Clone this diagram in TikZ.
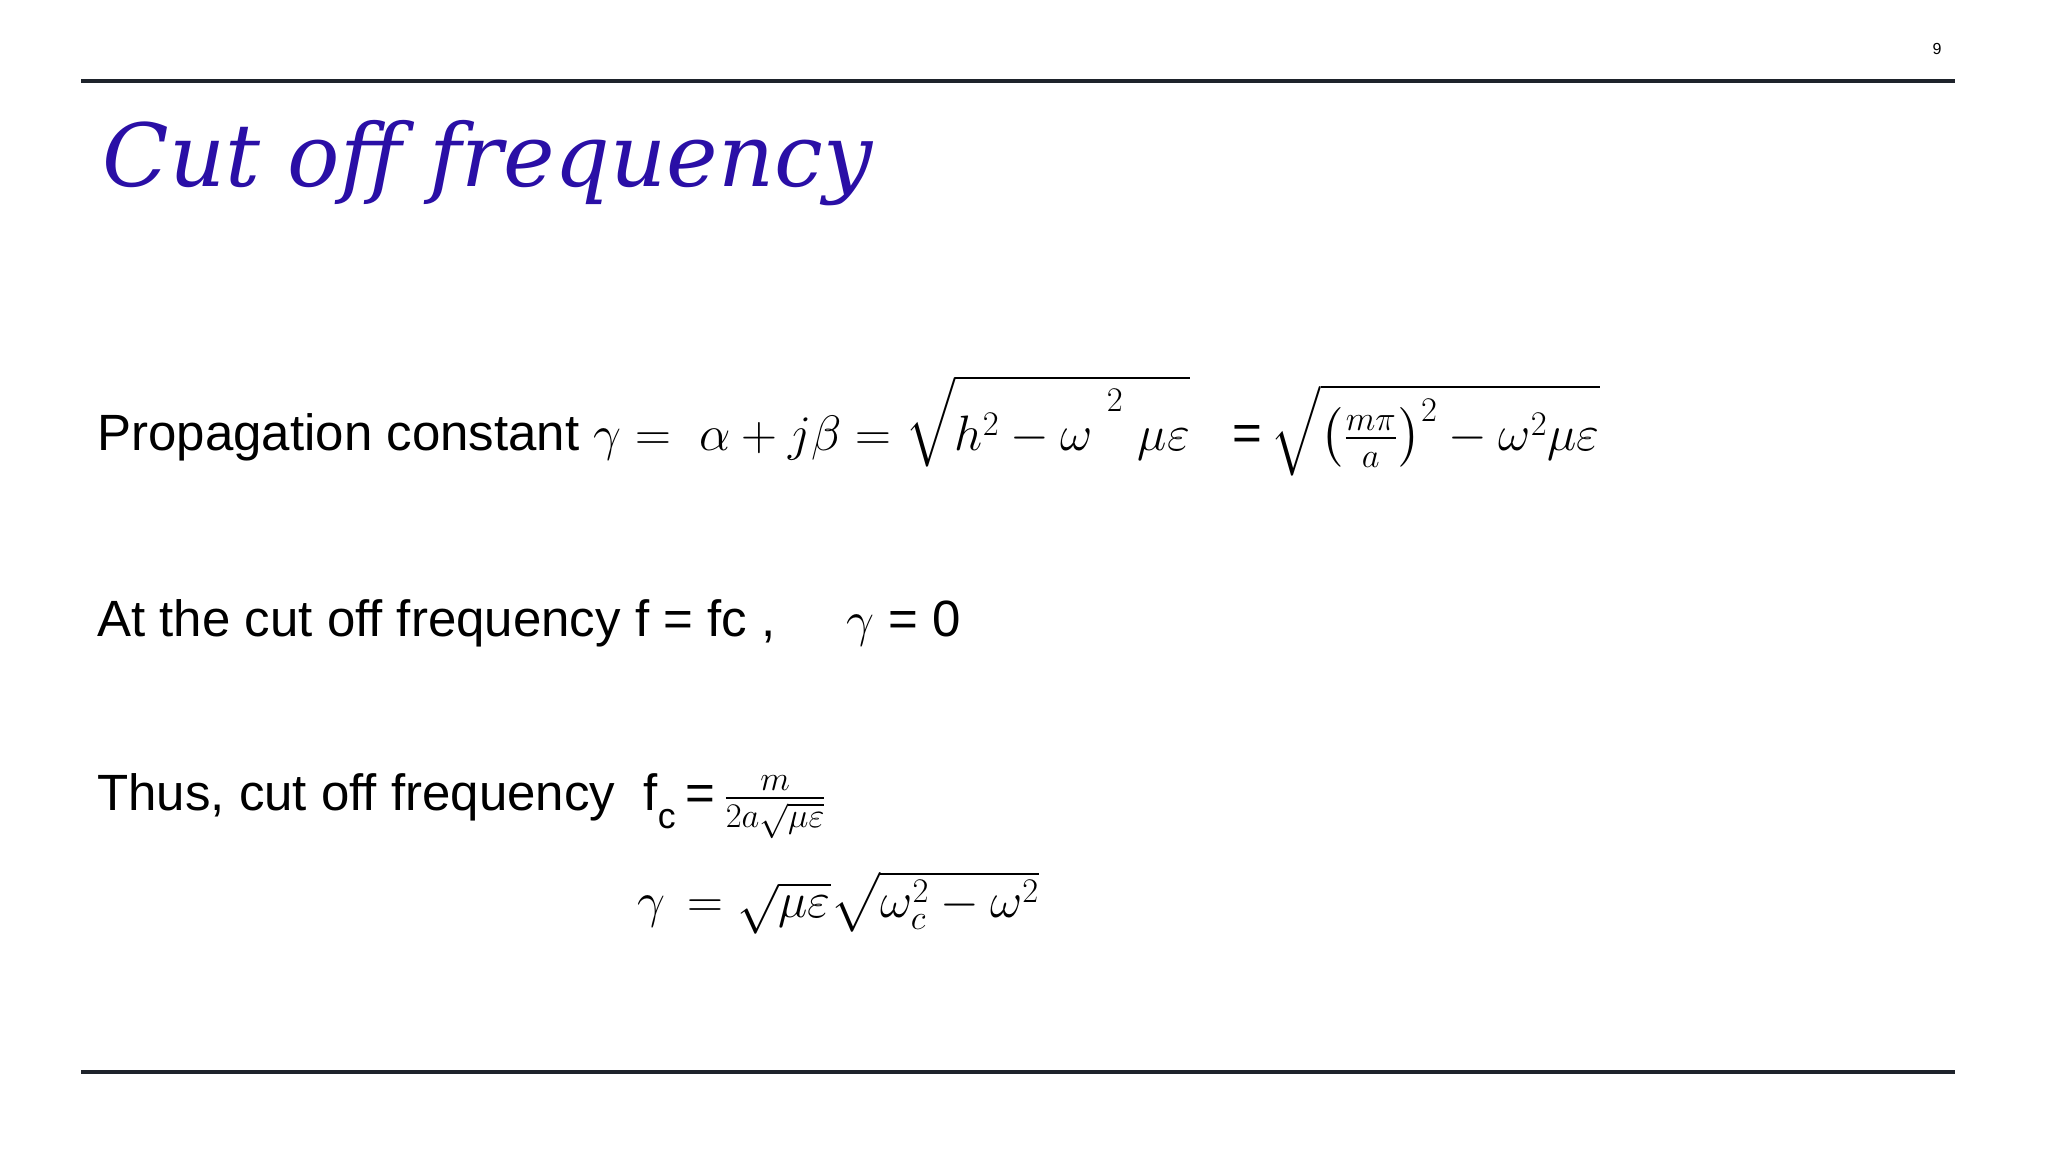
\documentclass[tikz,border=0pt]{standalone}
\usepackage{amsmath}
\usepackage{fontspec}
\setmainfont{Liberation Sans}
\newfontfamily\titlefont{DejaVu Serif}
\definecolor{titleblue}{HTML}{2A0FA6}
\definecolor{rulegray}{HTML}{1E232B}
\tikzset{
  body/.style={anchor=base west, inner sep=0pt, font=\fontsize{25.5}{30}\selectfont},
  rulebar/.style={draw=rulegray, line width=2pt}
}
\begin{document}
\begin{tikzpicture}[x=0.5pt,y=-0.5pt]
\useasboundingbox[fill=white] (0,0) rectangle (2048,1152);
\node[anchor=base east, inner sep=0pt, font=\fontsize{8}{10}\selectfont] (pg) at (1942,54) {9};
\coordinate (t1) at (81,81); \coordinate (t2) at (1955,81);
\draw[rulebar] (t1) -- (t2);
\coordinate (b1) at (81,1072); \coordinate (b2) at (1955,1072);
\draw[rulebar] (b1) -- (b2);
\node[anchor=base west, inner sep=0pt, text=titleblue] (title) at (102,186)
  {\resizebox{385pt}{!}{\titlefont\itshape Cut off frequency}};
\node[body] (l1) at (97,450) {Propagation constant $\gamma=\ \alpha+j\beta=\sqrt{h^2-\omega\ {}^{\raisebox{0.9ex}{$\scriptstyle 2$}}\ \mu\varepsilon}$\ \ \ =\,$\sqrt{\left(\frac{m\pi}{a}\right)^{2}-\omega^2\mu\varepsilon}$};
\node[body] (l2) at (97,636) {At the cut off frequency f = fc ,\hspace{1.4em}$\gamma$ = 0};
\node[body] (l3) at (97,810) {Thus, cut off frequency\ \ f\textsubscript{\raisebox{-0.6ex}{c}}\,=\,$\frac{m}{2a\sqrt{\mu\varepsilon}}$};
\node[body] (l4) at (637,917) {$\gamma\,=\sqrt{\mu\varepsilon}\sqrt{\omega_c^2-\omega^2}$};
\end{tikzpicture}
\end{document}
